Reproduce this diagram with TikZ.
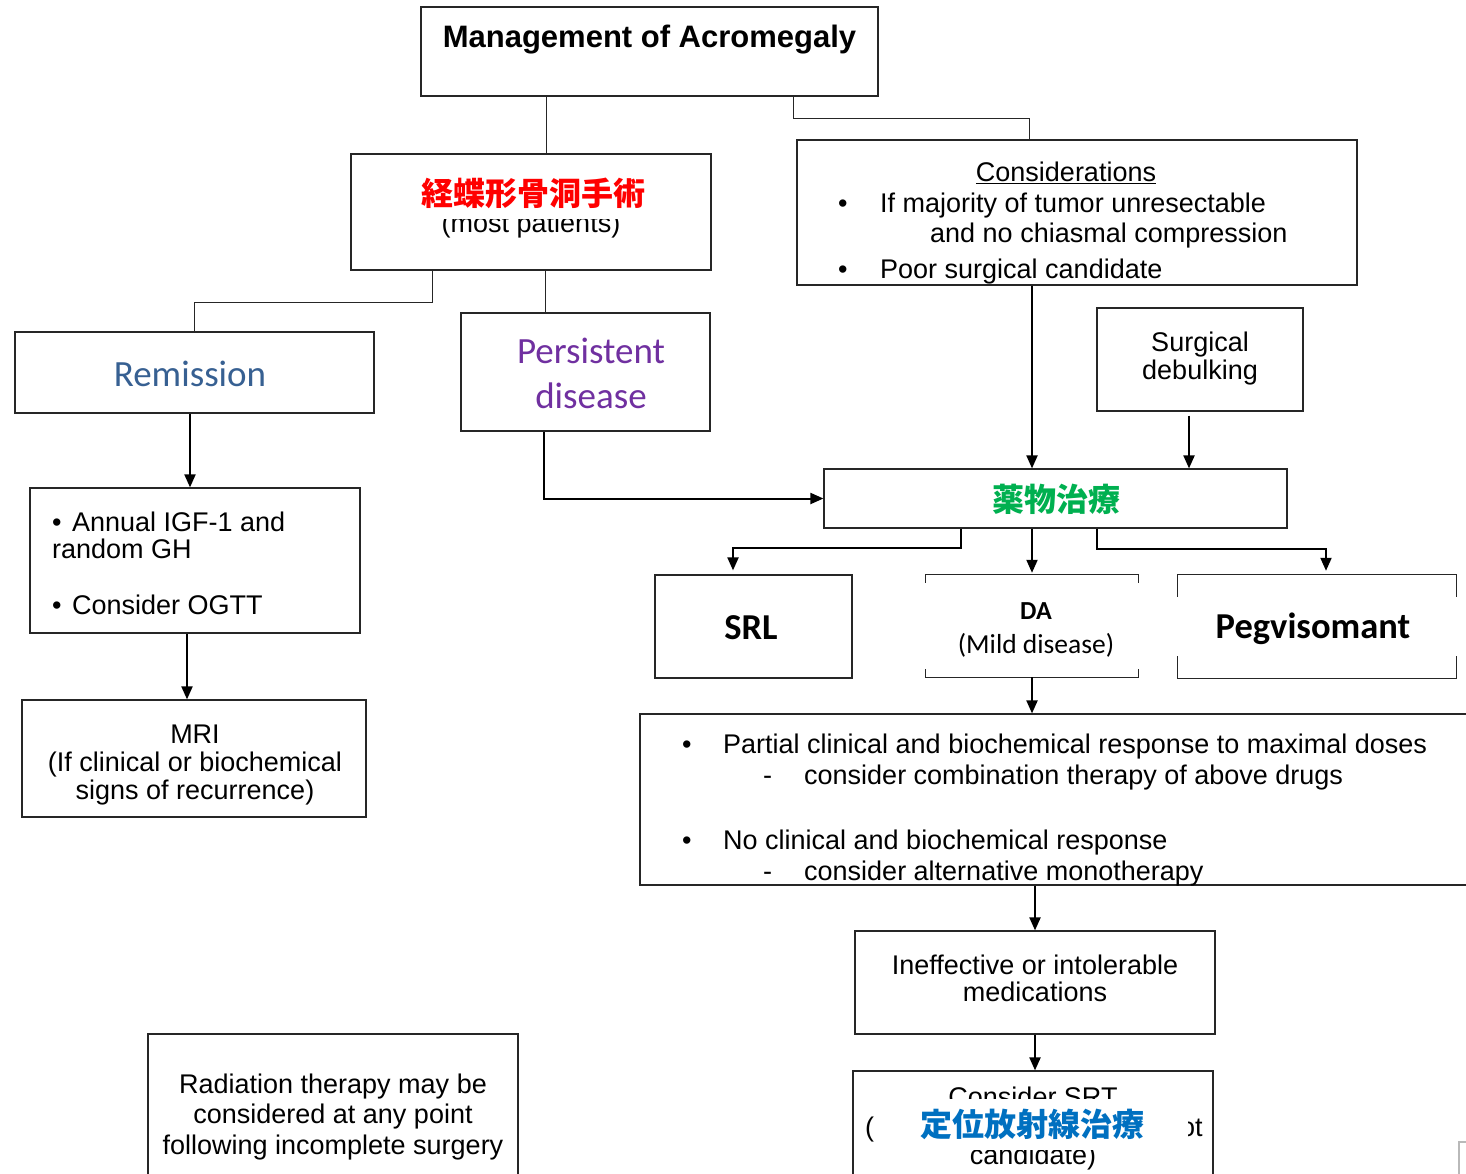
\documentclass[tikz,border=0pt]{standalone}
\usepackage{fontspec}
\setmainfont{Liberation Sans}
\newfontfamily\calib{Carlito}
\newfontfamily\jpfont{Noto Sans CJK JP}
\usetikzlibrary{arrows.meta,calc}
\definecolor{jpred}{HTML}{FF0000}
\definecolor{jpgreen}{HTML}{00B050}
\definecolor{jpblue}{HTML}{0070C0}
\definecolor{remblue}{HTML}{376092}
\definecolor{perspurple}{HTML}{7030A0}

\begin{document}
\begin{tikzpicture}[x=1pt,y=-1pt,
  box/.style={draw=black!85, line width=1.2pt, inner sep=0pt},
  link/.style={draw=black!85, line width=1pt},
  arr/.style={draw=black, line width=2pt, -{Triangle[length=13pt,width=11pt]}},
  plain/.style={line width=2pt, draw=black},
  ar/.style={inner sep=0pt, font=\fontsize{27}{30}\selectfont},
  tb/.style={ar, anchor=base},
  tl/.style={ar, anchor=base west},
  cal/.style={inner sep=0pt, anchor=base, font=\calib\fontsize{37}{40}\selectfont},
  calb/.style={inner sep=0pt, anchor=base, font=\calib\bfseries\fontsize{36.5}{40}\selectfont},
  jp/.style={fill=white, inner sep=0pt, font=\jpfont\bfseries\fontsize{32}{32}\selectfont}
]
\useasboundingbox[fill=white] (0,0) rectangle (1466,1174);

% ---------- boxes ----------
\node[box, minimum width=457, minimum height=89]  (title)   at (649.5,51.5)  {};
\node[box, minimum width=360, minimum height=116] (surg)    at (531,212)     {};
\node[box, minimum width=560, minimum height=145] (cons)    at (1077,212.5)  {};
\node[box, minimum width=359, minimum height=81]  (remis)   at (194.5,372.5) {};
\node[box, minimum width=249, minimum height=118] (persist) at (585.5,372)   {};
\node[box, minimum width=206, minimum height=103] (debulk)  at (1200,359.5)  {};
\node[box, minimum width=330, minimum height=145] (follow)  at (195,560.5)   {};
\node[box, minimum width=344, minimum height=117] (mri)     at (194,758.5)   {};
\node[box, minimum width=463, minimum height=59]  (drug)    at (1055.5,498.5){};
\node[box, minimum width=197, minimum height=103] (srl)     at (753.5,626.5) {};
\node[inner sep=0pt, minimum width=212, minimum height=102] (da)  at (1032,626)  {};
\node[inner sep=0pt, minimum width=278, minimum height=103] (peg) at (1317,626.5) {};
\node[box, minimum width=830, minimum height=171] (resp)    at (1055,799.5)  {};
\node[box, minimum width=360, minimum height=103] (ineff)   at (1035,982.5)  {};
\node[box, minimum width=360, minimum height=109] (srt)     at (1033,1125.5) {};
\node[box, minimum width=370, minimum height=146] (radio)   at (333,1107)    {};

% open-sided frames of the DA and Pegvisomant boxes
\draw[box] ($(da.north west)+(0,8)$) -- (da.north west) -- (da.north east) -- ++(0,8);
\draw[box] ($(da.south west)+(0,-8)$) -- (da.south west) -- (da.south east) -- ++(0,-8);
\draw[box] ($(peg.north west)+(0,22)$) -- (peg.north west) -- (peg.north east) -- ++(0,22);
\draw[box] ($(peg.south west)+(0,-22)$) -- (peg.south west) -- (peg.south east) -- ++(0,-22);

% ---------- texts ----------
\node[inner sep=0pt, anchor=base, font=\bfseries\fontsize{31}{34}\selectfont] (titletxt) at (649.5,48) {Management of Acromegaly};

\node[tb] (surgsub) at (531,233) {(most patients)};
\node[jp, text=jpred, minimum width=250, minimum height=52] (surgjp) at (533,193) {経蝶形骨洞手術};

\node[tb] (conshead) at (1066,182) {\underline{Considerations}};
\node[tl] (consb1) at (838,213) {•};
\node[tl] (consl1) at (880,213) {If majority of tumor unresectable};
\node[tl] (consl2) at (930,243) {and no chiasmal compression};
\node[tl] (consb2) at (838,278) {•};
\node[tl] (consl3) at (880,278) {Poor surgical candidate};

\node[cal, text=remblue] (remtxt) at (190,386) {Remission};
\node[cal, text=perspurple] (pers1) at (591,363) {Persistent};
\node[cal, text=perspurple] (pers2) at (591,408) {disease};

\node[tb] (deb1) at (1200,351) {Surgical};
\node[tb] (deb2) at (1200,379) {debulking};

\node[tl] (fol1) at (52,531) {•\hspace{3pt} Annual IGF-1 and};
\node[tl] (fol2) at (52,558) {random GH};
\node[tl] (fol3) at (52,614) {•\hspace{3pt} Consider OGTT};

\node[tb] (mri1) at (195,743) {MRI};
\node[tb] (mri2) at (195,771) {(If clinical or biochemical};
\node[tb] (mri3) at (195,799) {signs of recurrence)};

\node[jp, text=jpgreen] (drugtxt) at (1056,499) {薬物治療};

\node[calb] (srltxt) at (751,639) {SRL};
\node[inner sep=0pt, anchor=base, font=\calib\bfseries\fontsize{26}{30}\selectfont] (datxt) at (1036,619) {DA};
\node[inner sep=0pt, anchor=base, font=\calib\fontsize{27.5}{30}\selectfont] (dasub) at (1036,653) {(Mild disease)};
\node[calb] (pegtxt) at (1313,638) {Pegvisomant};

\node[tl] (rb1) at (682,753) {•};
\node[tl] (rl1) at (723,753) {Partial clinical and biochemical response to maximal doses};
\node[tl] (rd1) at (763,784) {-};
\node[tl] (rl2) at (804,784) {consider combination therapy of above drugs};
\node[tl] (rb2) at (682,849) {•};
\node[tl] (rl3) at (723,849) {No clinical and biochemical response};
\node[tl] (rd2) at (763,880) {-};
\node[tl] (rl4) at (804,880) {consider alternative monotherapy};

\node[tb] (inef1) at (1035,974) {Ineffective or intolerable};
\node[tb] (inef2) at (1035,1001) {medications};

\node[tb] (srt1) at (1033,1106) {Consider SRT};
\node[tl] (srt2a) at (865,1136) {(};
\node[tl] (srt2b) at (1180,1136) {ot};
\node[tb] (srt3) at (1033,1164) {candidate)};
\node[jp, text=jpblue, minimum width=312, minimum height=51] (srtjp) at (1032,1124) {定位放射線治療};

\node[tb] (rad1) at (333,1093) {Radiation therapy may be};
\node[tb] (rad2) at (333,1123) {considered at any point};
\node[tb] (rad3) at (333,1154) {following incomplete surgery};

% ---------- connectors ----------
\draw[link] ($(title.south)+(-103.5,0)$) -- ($(surg.north)+(15,0)$);
\draw[link] ($(title.south east)+(-85,0)$) -- ++(0,22) -| ($(cons.north)+(-48,0)$);
\draw[link] ($(surg.south west)+(82,0)$) -- ++(0,32) -| (remis.north);
\draw[link] ($(surg.south)+(14,0)$) -- ($(persist.north)+(-40.5,0)$);

\draw[arr] (remis.south -| remtxt) -- (follow.north -| remtxt);
\draw[arr] ($(follow.south)+(-8,0)$) -- ($(mri.north)+(-7,0)$);

\draw[arr] (cons.south -| da.north) -- (drug.north -| da.north);
\draw[arr] ($(debulk.south)+(-11,4)$) -- ($(drug.north)+(133.5,0)$);
\draw[arr] ($(persist.south)+(-41.5,0)$) |- (drug.west);

\draw[plain, -{Triangle[length=13pt,width=11pt]}] ($(drug.south west)+(138,0)$) -- ++(0,19) -| ($(srl.north)+(-20.5,-4)$);
\draw[arr] (drug.south -| da.north) -- ($(da.north)+(0,-2)$);
\draw[plain, -{Triangle[length=13pt,width=11pt]}] ($(drug.south west)+(274,0)$) -- ++(0,20) -| ($(peg.north)+(9,-4)$);

\draw[arr] (da.south) -- (resp.north -| da.south);
\draw[arr] (resp.south -| ineff.north) -- (ineff.north);
\draw[arr] (ineff.south) -- (srt.north -| ineff.south);

% stray corner at the lower right edge
\draw[gray!55, line width=1.5pt] (1459,1174) -- (1459,1142) -- (1466,1142);
\end{tikzpicture}
\end{document}
